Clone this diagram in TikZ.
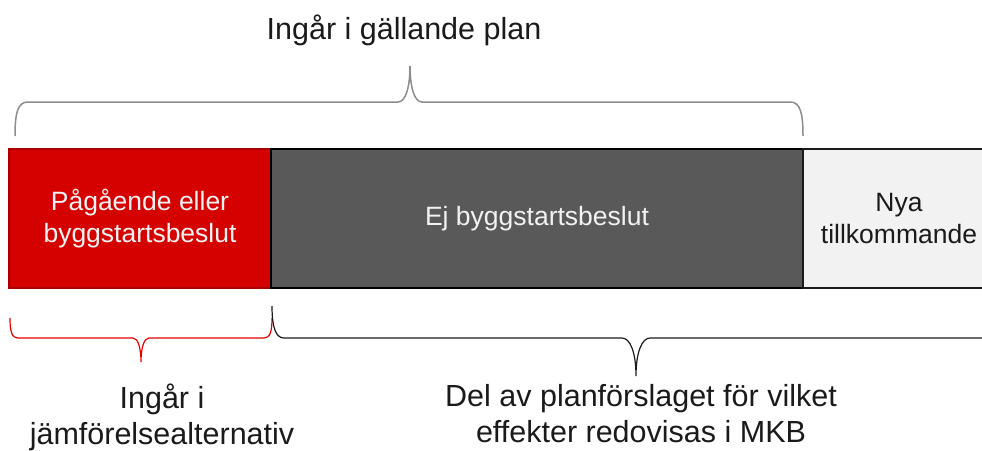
\documentclass[tikz,border=0pt]{standalone}
\usepackage{fontspec}
\setmainfont{Liberation Sans}
\usepackage{xcolor}
\usepackage{tikz}
\definecolor{planred}{HTML}{D50000}
\definecolor{planredline}{HTML}{A80000}
\definecolor{plandark}{HTML}{595959}
\definecolor{planlight}{HTML}{F2F2F2}
\definecolor{plantext}{HTML}{1A1A1A}
\tikzset{
  planbox/.style={rectangle,inner sep=0pt,outer sep=0pt,line width=1.5pt,minimum height=139pt,align=center,font=\fontsize{26.5}{31.5}\selectfont},
  outertext/.style={align=center,text=plantext,inner sep=0pt,font=\fontsize{30.5}{36}\selectfont},
  graybrace/.style={draw=gray!90,line width=1.5pt},
  redbrace/.style={draw=red!90!black,line width=1.2pt},
  darkbrace/.style={draw=plantext,line width=1.2pt}
}

\begin{document}
\begin{tikzpicture}[x=1pt,y=-1pt]
    \useasboundingbox (0,0) rectangle (982,450);
    \node[planbox,fill=planred,draw=planredline,text=planlight,minimum width=262pt] (pag) at (140,218.5) {Pågående eller\\byggstartsbeslut};
    \node[planbox,fill=plandark,draw=black,text=planlight,minimum width=532pt] (ej) at (537,218.5) {Ej byggstartsbeslut};
    \node[planbox,fill=planlight,draw=plantext,text=plantext,minimum width=192pt] (nya) at (899,218.5) {Nya\\tillkommande};
    \node[outertext,anchor=base] (gall) at (404,39) {Ingår i gällande plan};
    \node[outertext,anchor=base] (jamf) at (162,444) {Ingår i\\jämförelsealternativ};
    \node[outertext,anchor=base] (del) at (641,442) {Del av planförslaget för vilket\\effekter redovisas i MKB};
    \draw[graybrace] (15,136) .. controls (15,112) and (18,102) .. (28,102) -- (398,102)
      .. controls (406,102) and (410,86) .. (410,66) .. controls (410,86) and (414,102) .. (422,102)
      -- (790,102) .. controls (800,102) and (803,112) .. (803,136);
    \draw[redbrace] (10,318) .. controls (10,332) and (12,338) .. (18,338) -- (133,338)
      .. controls (138,338) and (141,348) .. (141,362) .. controls (141,348) and (144,338) .. (149,338)
      -- (264,338) .. controls (270,338) and (272,332) .. (272,318);
    \draw[darkbrace] (272,306) .. controls (272,328) and (276,338) .. (284,338) -- (622,338)
      .. controls (630,338) and (636,352) .. (636,376) .. controls (636,352) and (642,338) .. (650,338)
      -- (988,338) .. controls (996,338) and (999,328) .. (999,306);
\end{tikzpicture}
\end{document}
